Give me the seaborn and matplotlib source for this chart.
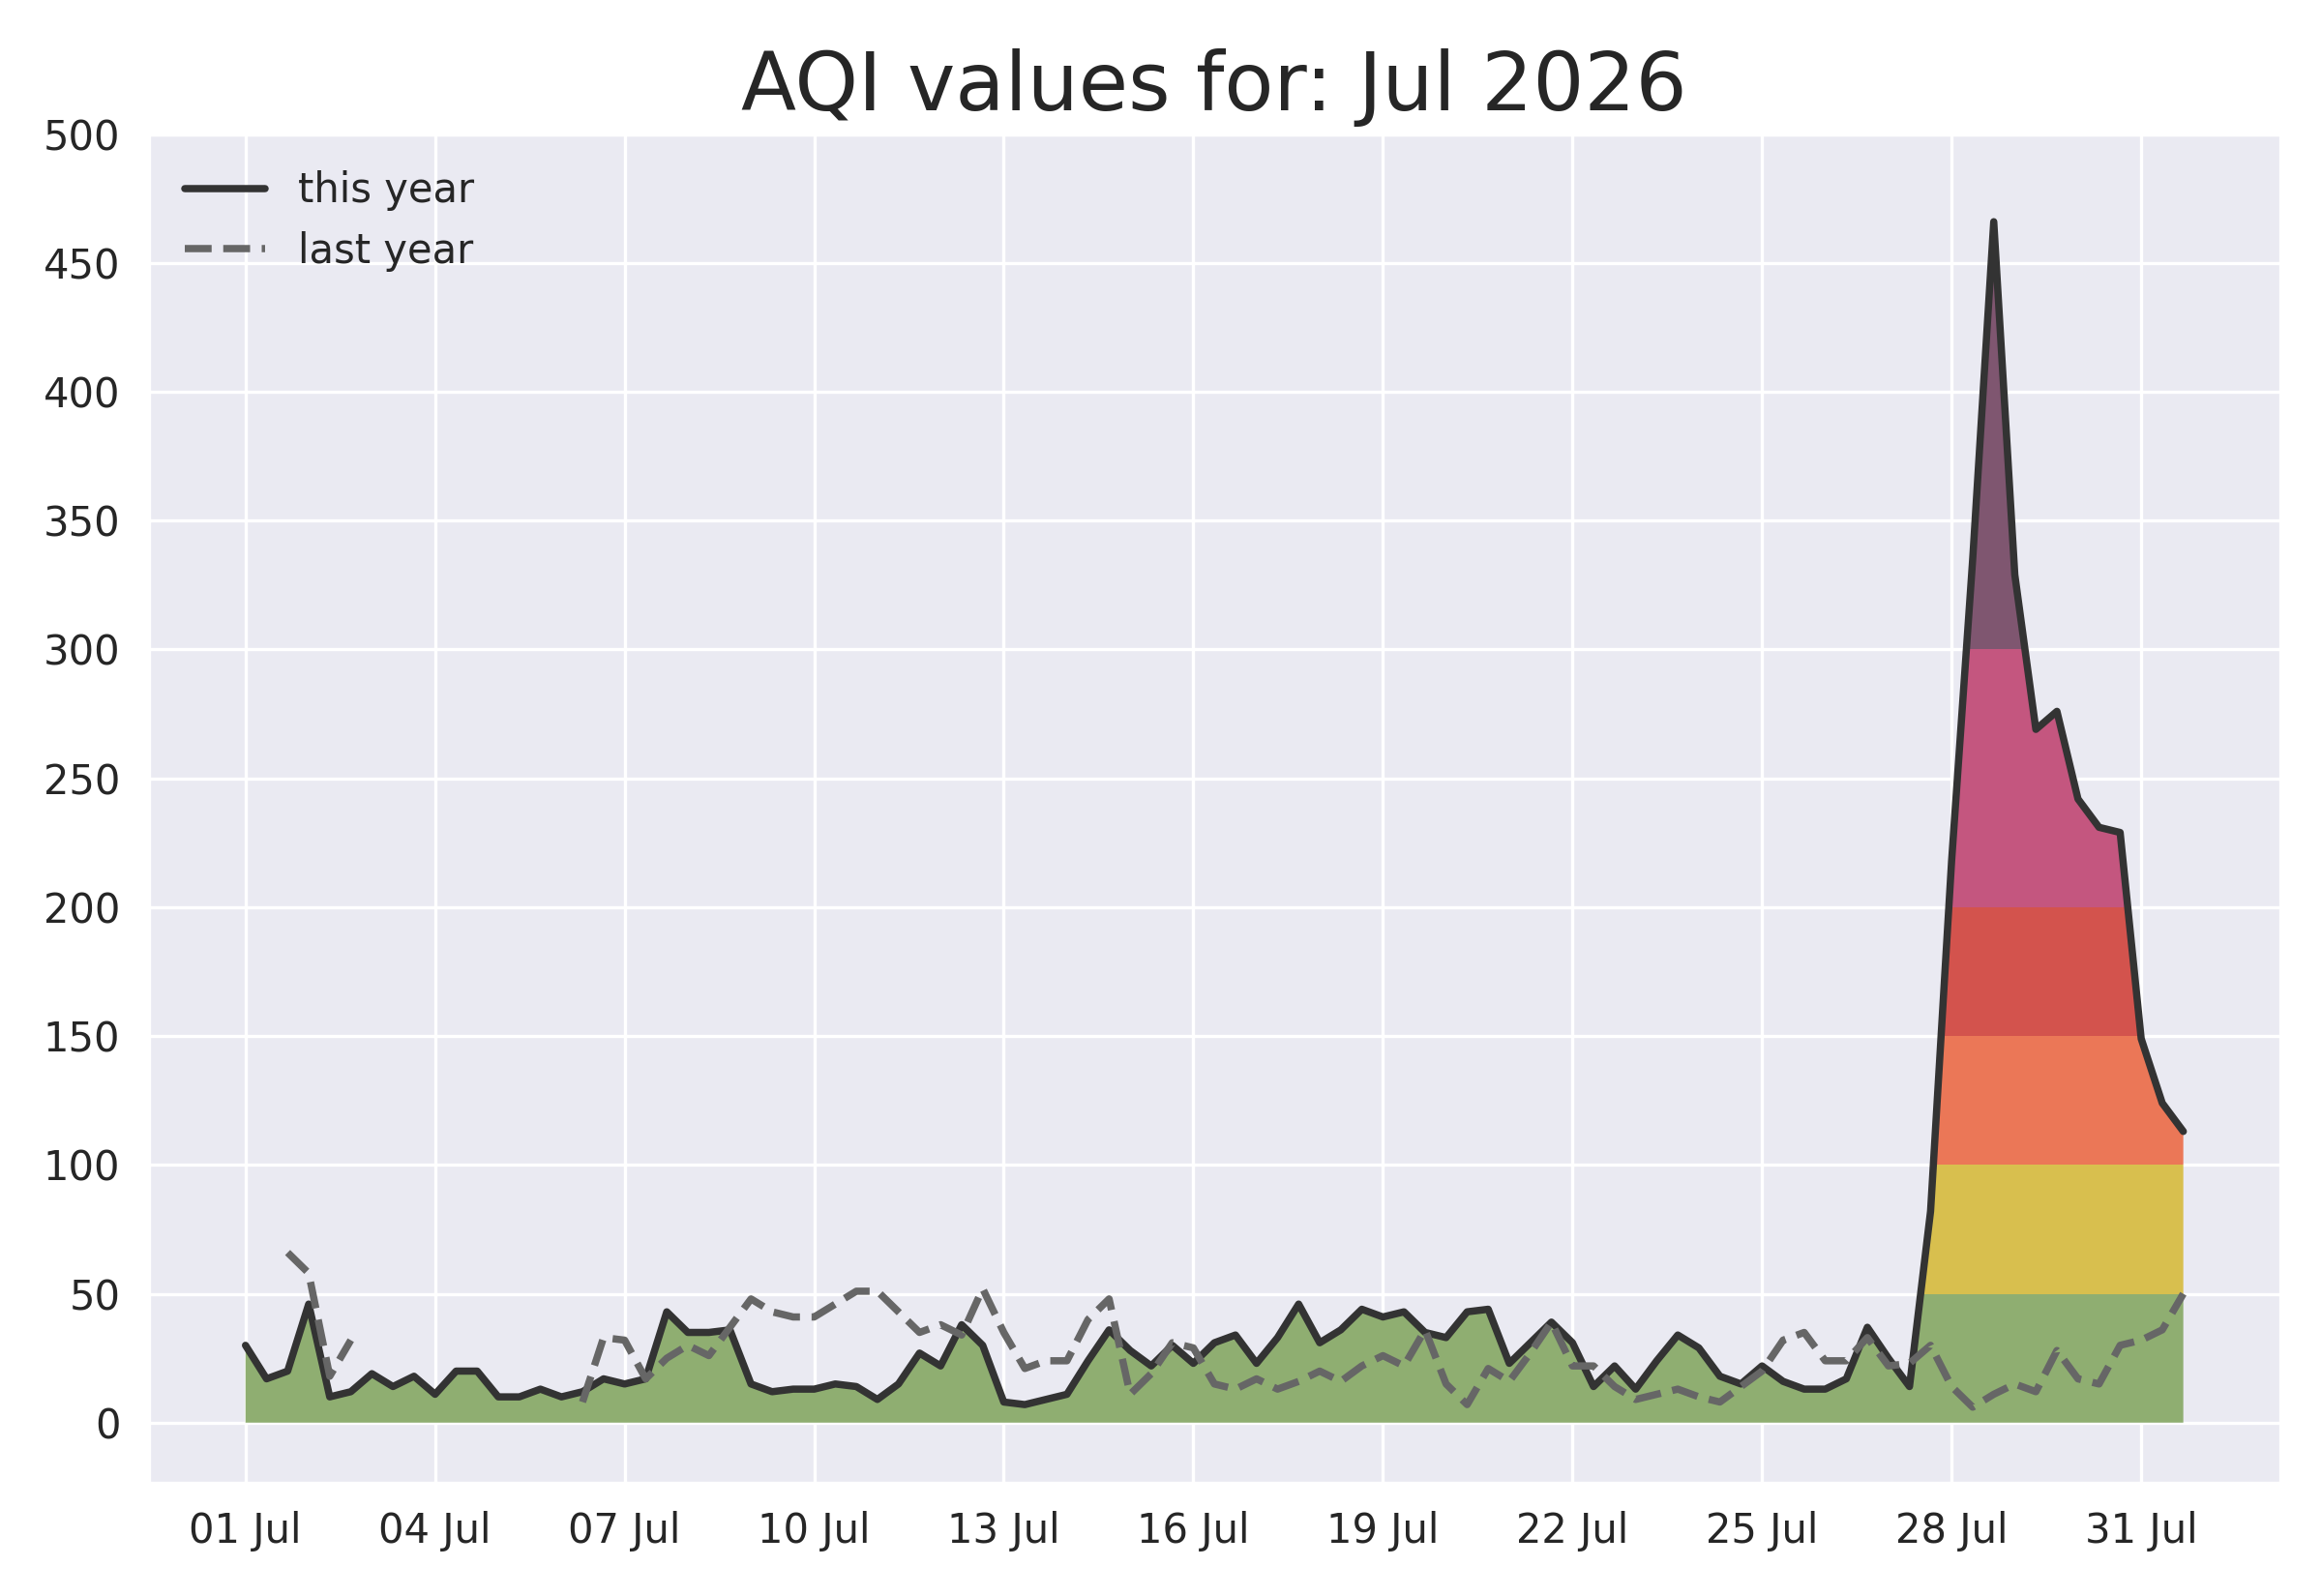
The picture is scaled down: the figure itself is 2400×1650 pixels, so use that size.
import numpy as np
import pandas as pd
import matplotlib
matplotlib.use("Agg")
import matplotlib.pyplot as plt
import matplotlib.dates as mdates
from matplotlib.ticker import MultipleLocator, FixedLocator
import seaborn as sns

# readings every 8 hours, 01 Jul 00:00 .. 31 Jul 16:00
times = pd.date_range("2026-07-01", periods=93, freq="8h")
tick_days = pd.date_range("2026-07-01", "2026-07-31", freq="3D")

this_year = [30, 17, 20, 46, 10, 12, 19, 14, 18, 11, 20, 20, 10, 10, 13, 10,
             12, 17, 15, 17, 43, 35, 35, 36, 15, 12, 13, 13, 15, 14, 9, 15,
             27, 22, 38, 30, 8, 7, 9, 11, 24, 36, 28, 22, 30, 23, 31, 34,
             23, 33, 46, 31, 36, 44, 41, 43, 35, 33, 43, 44, 23, 31, 39, 31,
             14, 22, 13, 24, 34, 29, 18, 15, 22, 16, 13, 13, 17, 37, 25, 14,
             82, 218, 335, 466, 329, 269, 276, 242, 231, 229, 149, 124, 113]

last_year = [None, None, 66, 58, 18, 32, None, None, None, None, None, None,
             None, None, None, None, 8, 33, 32, 17, 25, 30, 26, 37, 48, 43,
             41, 41, 46, 51, 51, 43, 35, 38, 34, 52, 35, 21, 24, 24, 40, 48,
             11, 19, 31, 29, 15, 13, 17, 13, 16, 20, 16, 22, 26, 22, 36, 15,
             7, 21, 16, 27, 39, 22, 22, 14, 9, 11, 13, 10, 8, 14, 20, 32,
             35, 24, 24, 33, 22, 23, 30, 14, 6, 11, 15, 12, 28, 17, 15, 30,
             32, 36, 50]

# AQI category bands and their fill colours
band_edges = [0, 50, 100, 150, 200, 300, 500]
band_colors = ["#8fae71", "#d8bf4e", "#eb7757", "#d3534d", "#c4567f", "#7f5670"]

this_year = np.array(this_year, dtype=float)
last_year = np.array([np.nan if v is None else v for v in last_year], dtype=float)

sns.set_style("darkgrid")
fig, ax = plt.subplots(figsize=(8, 5.5), dpi=300)

# area under this year's curve, used as clip shape for the coloured bands
area = ax.fill_between(times, 0, this_year, facecolor="none", edgecolor="none")
clip = area.get_paths()[0]
for lo, hi, c in zip(band_edges[:-1], band_edges[1:], band_colors):
    span = ax.axhspan(lo, hi, facecolor=c, edgecolor="none", zorder=1)
    span.set_clip_path(clip, ax.transData)

sns.lineplot(x=times, y=this_year, color="#333333", linewidth=1.8,
             estimator=None, label="this year", ax=ax, zorder=3)
# plain plot so the gaps in last year's data stay open
ax.plot(times, last_year, color="#666666", linewidth=1.8, linestyle="--",
        label="last year", zorder=3)

ax.set_ylim(-0.05 * this_year.max(), 500)
ax.yaxis.set_major_locator(MultipleLocator(50))
ax.xaxis.set_major_locator(FixedLocator(mdates.date2num(tick_days)))
ax.xaxis.set_major_formatter(mdates.DateFormatter("%d %b"))
ax.set_xlabel("")
ax.set_ylabel("")
ax.set_title("AQI values for: Jul 2026", fontsize=20)
ax.legend(loc="upper left", frameon=False)

plt.subplots_adjust(left=0.064, right=0.982, top=0.916, bottom=0.071)
plt.savefig("out.png", dpi=300)
